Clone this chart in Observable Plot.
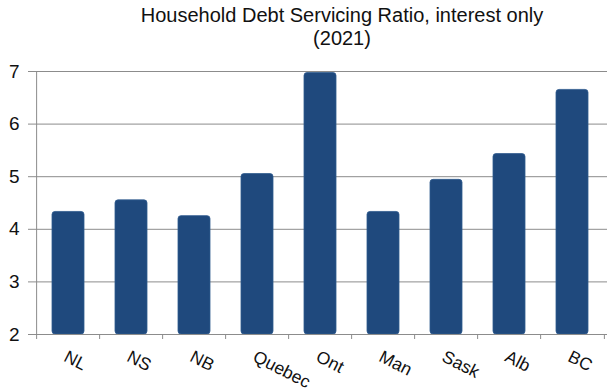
<!DOCTYPE html>
<html>
<head>
<meta charset="utf-8">
<script src="https://cdn.jsdelivr.net/npm/d3@7"></script>
<script src="https://cdn.jsdelivr.net/npm/@observablehq/plot@0.6"></script>
<style>
  html, body { margin: 0; padding: 0; background: #fff; }
  #title { box-sizing: border-box; width: 611px; height: 56px; padding: 4px 0 0 73px;
           text-align: center; font-family: "Liberation Sans", Arial, sans-serif;
           font-size: 20px; line-height: 23px; color: #111; }
  #chart svg { display: block; }
</style>
</head>
<body>
<div id="title"></div>
<div id="chart"></div>
<script>
const titleLines = ["Household Debt Servicing Ratio, interest only", "(2021)"];
const categories = ["NL", "NS", "NB", "Quebec", "Ont", "Man", "Sask", "Alb", "BC"];
const values = [4.33, 4.55, 4.25, 5.05, 6.97, 4.33, 4.94, 5.43, 6.65];
const yTicks = [2, 3, 4, 5, 6, 7];

document.getElementById("title").innerHTML = titleLines.join("<br>");

const data = categories.map((c, i) => ({cat: c, value: values[i]}));

const W = 611, H = 333, mL = 33, mR = 4, mT = 15, mB = 55;
const step = (W - mL - mR) / categories.length;
const gridColor = "#8c8c8c";
const textColor = "#111";

const chart = Plot.plot({
  width: W, height: H,
  marginTop: mT, marginBottom: mB, marginLeft: mL, marginRight: mR,
  style: {fontFamily: "'Liberation Sans', Arial, sans-serif", color: textColor, background: "#fff"},
  x: {domain: categories, paddingInner: 0.5, paddingOuter: 0.25, axis: null, label: null},
  y: {domain: [yTicks[0], yTicks[yTicks.length - 1]], axis: null, label: null},
  marks: [
    Plot.ruleY(yTicks.slice(1), {stroke: gridColor, strokeWidth: 1}),
    Plot.barY(data, {x: "cat", y1: yTicks[0], y2: "value", fill: "#1F497D", stroke: "#2f5a8e", strokeWidth: 0.8, rx: 3}),
    Plot.ruleY([yTicks[0]], {stroke: gridColor, strokeWidth: 1}),
    Plot.ruleX([categories[0]], {x: d => d, dx: -step / 2, y1: yTicks[0], y2: yTicks[yTicks.length - 1], stroke: gridColor}),
    Plot.axisY(yTicks, {label: null, tickSize: 5, tickPadding: 9, fontSize: 19, stroke: gridColor, fill: textColor, tickFormat: d => String(d)}),
    Plot.axisX(categories, {label: null, tickSize: 5, dx: -step / 2, stroke: gridColor, tickFormat: () => ""}),
    Plot.axisX([categories[categories.length - 1]], {label: null, tickSize: 5, dx: step / 2, stroke: gridColor, tickFormat: () => ""}),
    Plot.text(categories, {x: d => d, frameAnchor: "bottom", dy: 15, rotate: 27, textAnchor: "start", lineAnchor: "top", fontSize: 17.5, fill: textColor})
  ]
});
document.getElementById("chart").appendChild(chart);
</script>
</body>
</html>
